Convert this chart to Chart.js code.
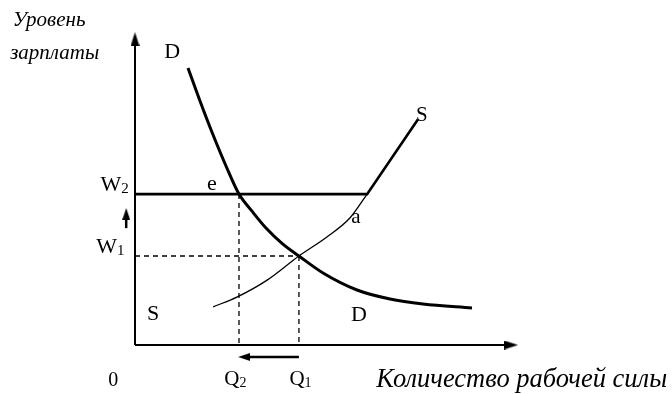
<!DOCTYPE html>
<html>
<head>
<meta charset="utf-8">
<script src="https://cdn.jsdelivr.net/npm/chart.js@4/dist/chart.umd.min.js"></script>
<style>
  body { margin: 0; background: #fff; }
  canvas { display: block; }
</style>
</head>
<body>
<canvas id="labourChart" width="672" height="394"></canvas>
<script>
// labour market with a minimum wage: W1 -> W2, employment Q1 -> Q2

// equilibrium and minimum wage levels
const Q1 = 42.8, Q2 = 27.15;
const W1 = 28.25, W2 = 47.9;

// demand curve D
const demandQ = [13.84, 16.97, 20.37, 23.76, Q2, 30.55, 34.2, 38.38, Q1, 49.09, 57.96, 66.58, 75.2, 87.99];
const demandW = [87.94, 77.46, 66.73, 56.83, W2, 42.48, 37.14, 32.29, W1, 22.86, 17.46, 14.6, 13.02, 11.75];

// original supply curve S (thin)
const supplyQ = [20.4, 26.6, 34.5, Q1, 50.1, 56.1, 60.6];
const supplyW = [12.1, 15.2, 20.6, W1, 34.3, 40.3, W2];

// supply with minimum wage (thick): flat at W2, then back on S
const minWageQ = [0, 60.6, 73.9];
const minWageW = [W2, W2, 71.7];

// axis and arrow ends
const axisMax = { x: 98.2, y: 97.1 };
const wageArrow = { x: -2.3, from: 37.1, to: 41.6 };
const qtyArrow = { y: -3.8, from: Q1, to: 28.5 };

// text labels (data coordinates)
const labels = [
  { text: 'Уровень', x: -31.9, y: 103.0, size: 21, italic: true, align: 'left' },
  { text: 'зарплаты', x: -32.6, y: 92.6, size: 21, italic: true, align: 'left' },
  { text: 'D', x: 9.7, y: 93.0, size: 22 },
  { text: 'S', x: 74.9, y: 72.9, size: 21 },
  { text: 'e', x: 20.1, y: 51.2, size: 22 },
  { text: 'a', x: 57.7, y: 40.6, size: 21 },
  { text: 'S', x: 4.7, y: 9.8, size: 22 },
  { text: 'D', x: 58.5, y: 9.6, size: 22 },
  { text: 'W', sub: '2', x: -6.3, y: 50.6, size: 22 },
  { text: 'W', sub: '1', x: -7.4, y: 30.9, size: 22 },
  { text: '0', x: -5.7, y: -11.4, size: 20 },
  { text: 'Q', sub: '2', x: 25.3, y: -11.1, size: 21 },
  { text: 'Q', sub: '1', x: 42.3, y: -11.1, size: 21 },
  { text: 'Количество рабочей силы', x: 63.0, y: -11.1, size: 26.5, italic: true, align: 'left' }
];

function toPoints(xs, ys) {
  return xs.map((x, i) => ({ x: x, y: ys[i] }));
}

function arrowHead(w, h) {
  const c = document.createElement('canvas');
  c.width = w; c.height = h;
  const g = c.getContext('2d');
  g.fillStyle = '#000';
  g.beginPath();
  g.moveTo(w / 2, 0);
  g.lineTo(w, h);
  g.lineTo(0, h);
  g.closePath();
  g.fill();
  return c;
}
const bigHead = arrowHead(9, 14);
const smallHead = arrowHead(8, 12);

const base = { borderColor: '#000', backgroundColor: '#000', pointRadius: 0, clip: false, fill: false };

function serif(size, italic) {
  return (italic ? 'italic ' : '') + size + 'px "Liberation Serif", "DejaVu Serif", serif';
}

const labelPlugin = {
  id: 'labels',
  afterDatasetsDraw(chart) {
    const { ctx, scales } = chart;
    ctx.save();
    ctx.fillStyle = '#000';
    ctx.textBaseline = 'middle';
    labels.forEach(l => {
      const px = scales.x.getPixelForValue(l.x);
      const py = scales.y.getPixelForValue(l.y);
      ctx.font = serif(l.size, l.italic);
      ctx.textAlign = l.align || 'center';
      ctx.fillText(l.text, px, py);
      if (l.sub) {
        const w = ctx.measureText(l.text).width;
        ctx.font = serif(Math.round(l.size * 0.68));
        ctx.textAlign = 'left';
        ctx.fillText(l.sub, px + w / 2, py + 3);
      }
    });
    ctx.restore();
  }
};

new Chart(document.getElementById('labourChart'), {
  type: 'line',
  data: {
    datasets: [
      // axes
      { ...base, data: [{ x: 0, y: 0 }, { x: 0, y: axisMax.y }], borderWidth: 2,
        pointRadius: [0, 8], pointStyle: bigHead, pointRotation: 0 },
      { ...base, data: [{ x: 0, y: 0 }, { x: axisMax.x, y: 0 }], borderWidth: 2,
        pointRadius: [0, 8], pointStyle: bigHead, pointRotation: 90 },
      // dashed guides
      { ...base, data: [{ x: 0, y: W1 }, { x: Q1, y: W1 }], borderWidth: 1.3, borderDash: [5, 4] },
      { ...base, data: [{ x: Q1, y: W1 }, { x: Q1, y: 0 }], borderWidth: 1.3, borderDash: [5, 4] },
      { ...base, data: [{ x: Q2, y: W2 }, { x: Q2, y: 0 }], borderWidth: 1.3, borderDash: [5, 4] },
      // supply S
      { ...base, data: toPoints(supplyQ, supplyW), borderWidth: 1.3, cubicInterpolationMode: 'monotone' },
      // minimum wage supply
      { ...base, data: toPoints(minWageQ, minWageW), borderWidth: 2.6 },
      // demand D
      { ...base, data: toPoints(demandQ, demandW), borderWidth: 3, cubicInterpolationMode: 'monotone' },
      // wage rise arrow
      { ...base, data: [{ x: wageArrow.x, y: wageArrow.from }, { x: wageArrow.x, y: wageArrow.to }], borderWidth: 2.5,
        pointRadius: [0, 14], pointStyle: smallHead, pointRotation: 0 },
      // employment fall arrow
      { ...base, data: [{ x: qtyArrow.from, y: qtyArrow.y }, { x: qtyArrow.to, y: qtyArrow.y }], borderWidth: 2.5,
        pointRadius: [0, 16], pointStyle: smallHead, pointRotation: -90 }
    ]
  },
  options: {
    responsive: false,
    animation: false,
    layout: { padding: { left: 135, right: 154, top: 30, bottom: 49 } },
    scales: {
      x: { type: 'linear', min: 0, max: 100, display: false },
      y: { type: 'linear', min: 0, max: 100, display: false }
    },
    plugins: {
      legend: { display: false },
      tooltip: { enabled: false }
    }
  },
  plugins: [labelPlugin]
});
</script>
</body>
</html>
